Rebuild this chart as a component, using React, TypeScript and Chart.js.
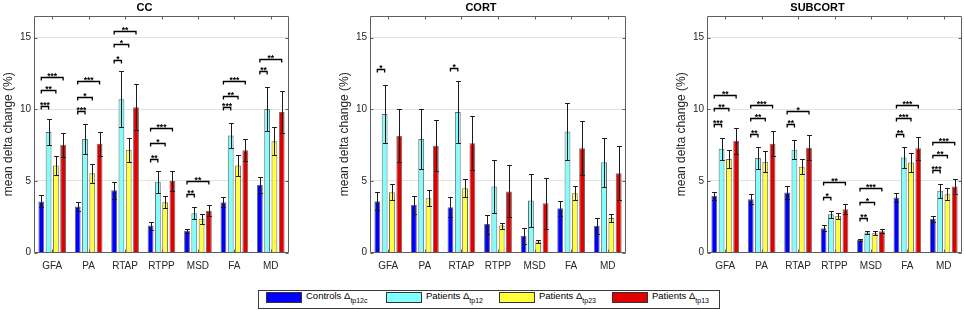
import React, { useEffect, useRef } from "react";
import { Chart, registerables } from "chart.js";

Chart.register(...registerables);

// ---------- data ----------
const categories = ["GFA", "PA", "RTAP", "RTPP", "MSD", "FA", "MD"];
const yTickValues = [0, 5, 10, 15];
const yAxisTitle = "mean delta change (%)";
const panelTitles = ["CC", "CORT", "SUBCORT"];

const legendNames = ["Controls", "Patients", "Patients", "Patients"];
const legendSubs = ["tp12c", "tp12", "tp23", "tp13"];
const seriesColors = ["#0000ff", "#80ffff", "#ffff3a", "#e00000"];

// CC
const ccControls = [3.56, 3.21, 4.35, 1.88, 1.51, 3.51, 4.72];
const ccControlsErr = [0.42, 0.32, 0.6, 0.28, 0.16, 0.37, 0.56];
const ccTp12 = [8.4, 7.91, 10.7, 4.93, 2.74, 8.16, 10.02];
const ccTp12Err = [0.9, 1.05, 1.93, 0.77, 0.4, 0.86, 1.54];
const ccTp23 = [6.07, 5.53, 7.16, 3.51, 2.35, 6.07, 7.77];
const ccTp23Err = [0.63, 0.66, 0.86, 0.4, 0.37, 0.72, 0.98];
const ccTp13 = [7.51, 7.58, 10.14, 4.98, 2.91, 7.14, 9.81];
const ccTp13Err = [0.82, 0.86, 1.6, 0.72, 0.37, 0.79, 1.49];
// [category, compared series, height, stars] (always vs. Controls)
const ccSig: [number, number, number, string][] = [
  [0, 1, 10.2, "***"], [0, 2, 11.35, "**"], [0, 3, 12.25, "***"],
  [1, 1, 9.88, "***"], [1, 2, 10.88, "*"], [1, 3, 11.98, "***"],
  [2, 1, 13.44, "*"], [2, 2, 14.53, "*"], [2, 3, 15.47, "**"],
  [3, 1, 6.51, "**"], [3, 2, 7.63, "*"], [3, 3, 8.7, "***"],
  [4, 1, 4.07, "**"], [4, 3, 5.0, "**"],
  [5, 1, 10.14, "***"], [5, 2, 10.95, "**"], [5, 3, 11.98, "***"],
  [6, 1, 12.67, "**"], [6, 3, 13.49, "**"],
];

// CORT
const cortControls = [3.58, 3.33, 3.16, 1.98, 1.16, 3.09, 1.86];
const cortControlsErr = [0.61, 0.62, 0.7, 0.67, 0.54, 0.51, 0.58];
const cortTp12 = [9.67, 7.91, 9.81, 4.6, 3.63, 8.44, 6.3];
const cortTp12Err = [2.05, 2.09, 2.14, 1.82, 1.84, 1.96, 1.72];
const cortTp23 = [4.21, 3.79, 4.49, 1.88, 0.77, 4.14, 2.4];
const cortTp23Err = [0.56, 0.54, 0.65, 0.21, 0.11, 0.51, 0.3];
const cortTp13 = [8.14, 7.44, 7.63, 4.26, 3.44, 7.28, 5.53];
const cortTp13Err = [1.86, 1.77, 1.86, 1.81, 1.79, 1.86, 1.87];
const cortSig: [number, number, number, string][] = [
  [0, 1, 12.79, "*"],
  [2, 1, 12.86, "*"],
];

// SUBCORT
const subControls = [3.95, 3.72, 4.19, 1.7, 0.88, 3.84, 2.33];
const subControlsErr = [0.3, 0.33, 0.44, 0.21, 0.05, 0.3, 0.2];
const subTp12 = [7.23, 6.6, 7.16, 2.67, 1.4, 6.63, 4.3];
const subTp12Err = [0.77, 0.75, 0.67, 0.23, 0.1, 0.72, 0.49];
const subTp23 = [6.53, 6.33, 5.98, 2.56, 1.35, 6.28, 4.07];
const subTp23Err = [0.65, 0.72, 0.51, 0.23, 0.15, 0.65, 0.42];
const subTp13 = [7.79, 7.58, 7.3, 3.02, 1.49, 7.28, 4.6];
const subTp13Err = [0.93, 0.88, 0.88, 0.33, 0.14, 0.81, 0.51];
const subSig: [number, number, number, string][] = [
  [0, 1, 8.95, "***"], [0, 2, 10.07, "**"], [0, 3, 11.0, "**"],
  [1, 1, 8.26, "**"], [1, 2, 9.37, "**"], [1, 3, 10.28, "***"],
  [2, 1, 8.95, "**"], [2, 3, 9.84, "*"],
  [3, 1, 3.84, "*"], [3, 3, 4.93, "**"],
  [4, 1, 2.44, "**"], [4, 2, 3.49, "*"], [4, 3, 4.47, "***"],
  [5, 1, 8.3, "**"], [5, 2, 9.35, "***"], [5, 3, 10.28, "***"],
  [6, 1, 5.74, "***"], [6, 2, 6.81, "**"], [6, 3, 7.74, "***"],
];

// ---------- layout / style ----------
const FONT = "'Liberation Sans', Arial, Helvetica, sans-serif";
const Y_MAX = 16.5;
const panelAreas = [
  { left: 34, right: 289 },
  { left: 370, right: 626 },
  { left: 707, right: 962 },
];
const AXIS_W = 34;
const CANVAS_H = 280;
const AREA_BOTTOM = 252.5;

const panelData = [
  {
    values: [ccControls, ccTp12, ccTp23, ccTp13],
    errors: [ccControlsErr, ccTp12Err, ccTp23Err, ccTp13Err],
    sig: ccSig,
  },
  {
    values: [cortControls, cortTp12, cortTp23, cortTp13],
    errors: [cortControlsErr, cortTp12Err, cortTp23Err, cortTp13Err],
    sig: cortSig,
  },
  {
    values: [subControls, subTp12, subTp23, subTp13],
    errors: [subControlsErr, subTp12Err, subTp23Err, subTp13Err],
    sig: subSig,
  },
];

function makeErrorPlugin(errors: number[][]) {
  return {
    id: "errorBars",
    afterDatasetsDraw(chart: any) {
      const ctx = chart.ctx;
      const ys = chart.scales.y;
      ctx.save();
      ctx.strokeStyle = "#1a1a1a";
      ctx.lineWidth = 1;
      chart.data.datasets.forEach((ds: any, k: number) => {
        const meta = chart.getDatasetMeta(k);
        meta.data.forEach((bar: any, j: number) => {
          const v = ds.data[j];
          const e = errors[k][j];
          const x = Math.round(bar.x) + 0.5;
          const yTop = Math.round(ys.getPixelForValue(v + e)) + 0.5;
          const yBot = Math.round(ys.getPixelForValue(v - e)) + 0.5;
          const half = Math.max(2, bar.width / 2 - 0.5);
          ctx.beginPath();
          ctx.moveTo(x, yTop);
          ctx.lineTo(x, yBot);
          ctx.moveTo(x - half, yTop);
          ctx.lineTo(x + half, yTop);
          ctx.moveTo(x - half, yBot);
          ctx.lineTo(x + half, yBot);
          ctx.stroke();
        });
      });
      ctx.restore();
    },
  };
}

function makeSigPlugin(sig: [number, number, number, string][]) {
  return {
    id: "sigBrackets",
    afterDatasetsDraw(chart: any) {
      const ctx = chart.ctx;
      const ys = chart.scales.y;
      ctx.save();
      ctx.strokeStyle = "#000";
      ctx.fillStyle = "#000";
      ctx.lineWidth = 1.3;
      ctx.font = `bold 8.5px ${FONT}`;
      ctx.textAlign = "center";
      ctx.textBaseline = "alphabetic";
      sig.forEach(([cat, to, yv, label]) => {
        const x1 = chart.getDatasetMeta(0).data[cat].x;
        const x2 = chart.getDatasetMeta(to).data[cat].x;
        const y = Math.round(ys.getPixelForValue(yv)) + 0.5;
        ctx.beginPath();
        ctx.moveTo(x1, y + 3);
        ctx.lineTo(x1, y);
        ctx.lineTo(x2, y);
        ctx.lineTo(x2, y + 3);
        ctx.stroke();
        ctx.fillText(label, (x1 + x2) / 2, y + 1.5);
      });
      ctx.restore();
    },
  };
}

const framePlugin = {
  id: "frame",
  afterDraw(chart: any) {
    const ctx = chart.ctx;
    const { left, right, top, bottom } = chart.chartArea;
    const xs = chart.scales.x;
    const ys = chart.scales.y;
    const L = Math.round(left) + 0.5;
    const R = Math.round(right) - 0.5;
    const T = Math.round(top) + 0.5;
    const B = Math.round(bottom) - 0.5;
    ctx.save();
    ctx.strokeStyle = "#5e5e5e";
    ctx.lineWidth = 1;
    ctx.beginPath();
    ctx.rect(L, T, R - L, B - T);
    ctx.stroke();
    ctx.beginPath();
    yTickValues.forEach((v) => {
      const y = Math.round(ys.getPixelForValue(v)) + 0.5;
      ctx.moveTo(L, y);
      ctx.lineTo(L + 3, y);
      ctx.moveTo(R, y);
      ctx.lineTo(R - 3, y);
    });
    categories.forEach((_, i) => {
      const x = Math.round(xs.getPixelForValue(i)) + 0.5;
      ctx.moveTo(x, B);
      ctx.lineTo(x, B - 3);
      ctx.moveTo(x, T);
      ctx.lineTo(x, T + 3);
    });
    ctx.stroke();
    ctx.restore();
  },
};

function Panel({ index }: { index: number }) {
  const ref = useRef<HTMLCanvasElement | null>(null);
  const area = panelAreas[index];
  const canvasLeft = area.left - AXIS_W;
  const canvasW = area.right - area.left + AXIS_W + 2;

  useEffect(() => {
    if (!ref.current) return;
    const pd = panelData[index];
    const chart = new Chart(ref.current, {
      type: "bar",
      data: {
        labels: categories,
        datasets: pd.values.map((vals, k) => ({
          label: `${legendNames[k]} Δ${legendSubs[k]}`,
          data: vals,
          backgroundColor: seriesColors[k],
          borderColor: "#6a6a6a",
          borderWidth: 1,
          categoryPercentage: 0.8,
          barPercentage: 0.8,
        })),
      },
      options: {
        responsive: false,
        animation: false,
        devicePixelRatio: 1,
        layout: { padding: { left: 0, right: 2, top: 0, bottom: 0 } },
        plugins: {
          legend: { display: false },
          tooltip: { enabled: false },
          title: {
            display: true,
            text: panelTitles[index],
            color: "#000",
            font: { family: FONT, size: 11, weight: "bold" },
            padding: { top: 1.5, bottom: 1.3 },
          },
        },
        scales: {
          x: {
            grid: { display: false },
            border: { display: false },
            ticks: {
              color: "#262626",
              font: { family: FONT, size: 10 },
              padding: 0,
              maxRotation: 0,
            },
            afterFit: (s: any) => {
              s.height = CANVAS_H - AREA_BOTTOM;
            },
          },
          y: {
            min: 0,
            max: Y_MAX,
            afterBuildTicks: (axis: any) => {
              axis.ticks = yTickValues.map((v) => ({ value: v }));
            },
            grid: { color: "#e2e2e2", drawTicks: false, lineWidth: 1 },
            border: { display: false },
            ticks: {
              color: "#262626",
              font: { family: FONT, size: 10 },
              padding: 3,
            },
            title: {
              display: true,
              text: yAxisTitle,
              color: "#262626",
              font: { family: FONT, size: 12 },
              padding: { top: 1, bottom: 0 },
            },
            afterFit: (s: any) => {
              s.width = AXIS_W;
            },
          },
        },
      } as any,
      plugins: [makeErrorPlugin(pd.errors), makeSigPlugin(pd.sig), framePlugin],
    });
    return () => chart.destroy();
  }, [index]);

  return (
    <canvas
      ref={ref}
      width={canvasW}
      height={CANVAS_H}
      style={{
        position: "absolute",
        left: canvasLeft,
        top: 0,
        width: canvasW,
        height: CANVAS_H,
      }}
    />
  );
}

const legendSwatchLeft = [266, 386, 499, 612];

function Legend() {
  return (
    <div
      style={{
        position: "absolute",
        left: 258,
        top: 290,
        width: 462,
        height: 19,
        boxSizing: "border-box",
        border: "1px solid #3a3a3a",
        background: "#fff",
        fontFamily: FONT,
      }}
    >
      {legendNames.map((name, k) => (
        <React.Fragment key={k}>
          <div
            style={{
              position: "absolute",
              left: legendSwatchLeft[k] - 259,
              top: 1,
              width: 36,
              height: 11,
              boxSizing: "border-box",
              border: "1px solid #333",
              background: seriesColors[k],
            }}
          />
          <div
            style={{
              position: "absolute",
              left: legendSwatchLeft[k] - 259 + 40,
              top: -1,
              height: 12,
              lineHeight: "12px",
              fontSize: "9.5px",
              color: "#000",
              whiteSpace: "nowrap",
            }}
          >
            {name} Δ
            <span
              style={{
                fontSize: "7px",
                verticalAlign: "-4px",
                lineHeight: "0",
                color: "#000",
              }}
            >
              {legendSubs[k]}
            </span>
          </div>
        </React.Fragment>
      ))}
    </div>
  );
}

export default function App() {
  return (
    <div
      style={{
        position: "absolute",
        left: 0,
        top: 0,
        width: 964,
        height: 310,
        background: "#fff",
        overflow: "hidden",
      }}
    >
      {panelAreas.map((_, i) => (
        <Panel key={i} index={i} />
      ))}
      <Legend />
    </div>
  );
}
